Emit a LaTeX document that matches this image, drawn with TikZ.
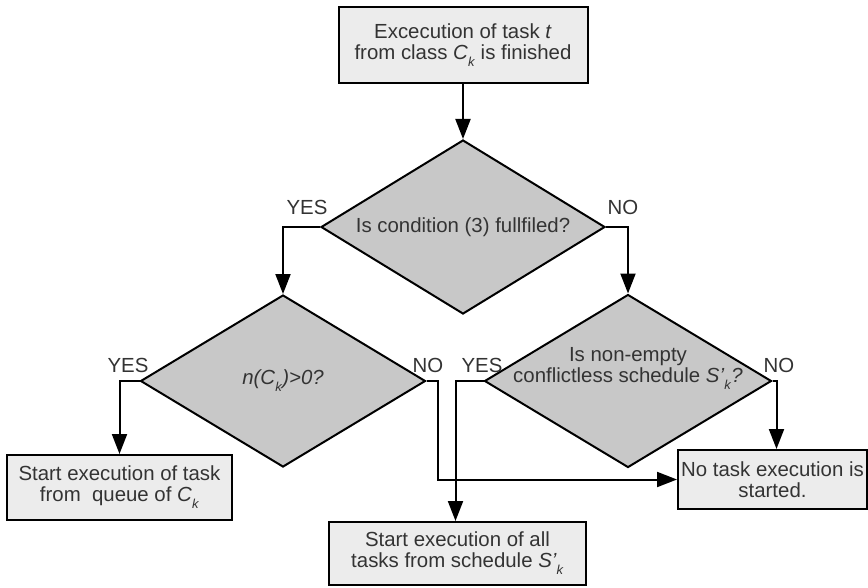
\documentclass[tikz,border=0pt]{standalone}
\usepackage{fontspec}
\setmainfont{Liberation Sans}
\usepackage{xcolor}
\usetikzlibrary{shapes.geometric,arrows.meta}
\definecolor{boxfill}{HTML}{ECECEC}
\definecolor{decfill}{HTML}{C8C8C8}
\definecolor{txtgray}{HTML}{333333}
\newcommand{\subk}{\raisebox{-0.65ex}{\fontsize{13}{13}\selectfont\textit{k}}}

\begin{document}
\begin{tikzpicture}[x=1pt, y=-1pt,
  every node/.style={font=\fontsize{20.4}{21}\selectfont, text=txtgray, align=center},
  box/.style={draw, line width=2pt, fill=boxfill, inner sep=0pt},
  dec/.style={diamond, draw, line width=2pt, fill=decfill, inner sep=0pt, aspect=1.63},
  arr/.style={-{Triangle[length=20pt, width=15pt]}, line width=2pt},
  lab/.style={inner sep=1pt}]
\useasboundingbox (0,0) rectangle (868,587);
\node[box, minimum width=249, minimum height=76] (fin) at (463,45) {Excecution of task \textit{t}\\from class \textit{C}\subk{} is finished};
\node[dec, minimum width=284, minimum height=174] (cond) at (463,227) {Is condition (3) fullfiled?};
\node[dec, minimum width=285, minimum height=172] (nck) at (283,381) {\textit{n(C}\subk\textit{)>0?}};
\node[dec, minimum width=287, minimum height=173] (sched) at (628,381) {};
\node (schedq) at (628,368) {Is non-empty\\conflictless schedule \textit{S'}\subk\textit{?}};
\node[box, minimum width=225, minimum height=65] (queue) at (119.5,487.5) {Start execution of task\\from\ \ queue of \textit{C}\subk};
\node[box, minimum width=189, minimum height=59] (none) at (772.5,479.5) {No task execution is\\started.};
\node[box, minimum width=257, minimum height=63] (all) at (457.5,553.5) {Start execution of all\\tasks from schedule \textit{S'}\subk};
% branch labels
\node[lab] (yes1) at (307,207) {YES};
\node[lab] (no1) at (623,207) {NO};
\node[lab] (yes2) at (128,365) {YES};
\node[lab] (no2) at (428,365) {NO};
\node[lab] (yes3) at (482,365) {YES};
\node[lab] (no3) at (779,365) {NO};
\draw[arr] (fin) -- (cond);
\draw[arr] (cond.west) -| (nck.north);
\draw[arr] (cond.east) -| (sched.north);
\draw[arr] (nck.west) -| (queue.north);
\draw[arr] (nck.east) -- ++(11,0) |- (none.west);
\draw[arr] (sched.east) -- ++(4,0) coordinate (c3) -- (c3 |- none.north);
\draw[arr] (sched.west) -- ++(-28,0) coordinate (c4) -- (c4 |- all.north);
\end{tikzpicture}
\end{document}
